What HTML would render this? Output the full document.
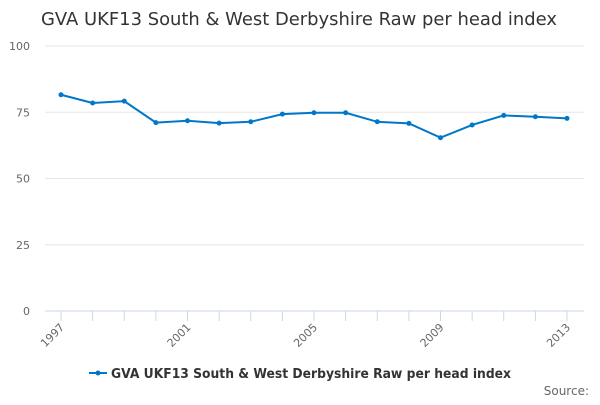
<!DOCTYPE html>
<html><head><meta charset="utf-8"><style>
body{margin:0;background:#fff;font-family:"Liberation Sans","DejaVu Sans",sans-serif;}
svg text{font-family:"DejaVu Sans","Liberation Sans",sans-serif;}
</style></head><body>
<svg id="chart" width="600" height="400">
<text x="41" y="25" font-size="17.5" fill="#333" textLength="516" lengthAdjust="spacingAndGlyphs">GVA UKF13 South &amp; West Derbyshire Raw per head index</text>
<g id="grid"></g><g id="xaxis"></g><g id="series"></g>
<g>
<line x1="89" y1="373" x2="107" y2="373" stroke="#0077c8" stroke-width="2"/>
<circle cx="98" cy="373" r="2.5" fill="#0077c8"/>
<text x="111" y="378" font-size="13" font-weight="bold" fill="#333" textLength="400" lengthAdjust="spacingAndGlyphs">GVA UKF13 South &amp; West Derbyshire Raw per head index</text>
</g>
<text x="589" y="395" font-size="12" fill="#666" text-anchor="end">Source:</text>
</svg>
<script>
const years=[1997,1998,1999,2000,2001,2002,2003,2004,2005,2006,2007,2008,2009,2010,2011,2012,2013];
const values=[81.6,78.5,79.2,71.1,71.8,70.9,71.4,74.3,74.8,74.8,71.4,70.8,65.4,70.2,73.8,73.3,72.7];
const yTicks=[0,25,50,75,100];
const xLabels=[1997,2001,2005,2009,2013];
const NS="http://www.w3.org/2000/svg";
const x=v=>61+(v-1997)*(567-61)/16;
const y=v=>311-v*2.65;
function mk(t,a,p){const e=document.createElementNS(NS,t);for(const k in a)e.setAttribute(k,a[k]);p.appendChild(e);return e;}
const grid=document.getElementById('grid');
yTicks.forEach(t=>{
 const l=mk('line',{x1:45,x2:584,y1:y(t),y2:y(t),stroke:t===0?'#ccd6eb':'#e6e6e6','stroke-width':1},grid);
 
 
 const tx=mk('text',{x:30,y:y(t)+4,'font-size':11,fill:'#666','text-anchor':'end'},grid);
 tx.textContent=t;
 
 
});
const xa=document.getElementById('xaxis');
years.forEach(yr=>{
 const l=mk('line',{x1:x(yr),x2:x(yr),y1:311,y2:321,stroke:'#ccd6eb'},xa);
 
 
});
xLabels.forEach(yr=>{
 const t=mk('text',{x:x(yr)+4,y:328,'font-size':11,fill:'#666','text-anchor':'end',transform:`rotate(-45 ${x(yr)+4} 328)`},xa);
 t.textContent=yr;
 
 
});
const s=document.getElementById('series');
const p=mk('polyline',{points:years.map((yr,i)=>x(yr)+','+y(values[i])).join(' '),fill:'none',stroke:'#0077c8','stroke-width':2},s);


years.forEach((yr,i)=>{
 const c=mk('circle',{cx:x(yr),cy:y(values[i]),r:2.5,fill:'#0077c8'},s);
 
 
});
</script>
</body></html>
